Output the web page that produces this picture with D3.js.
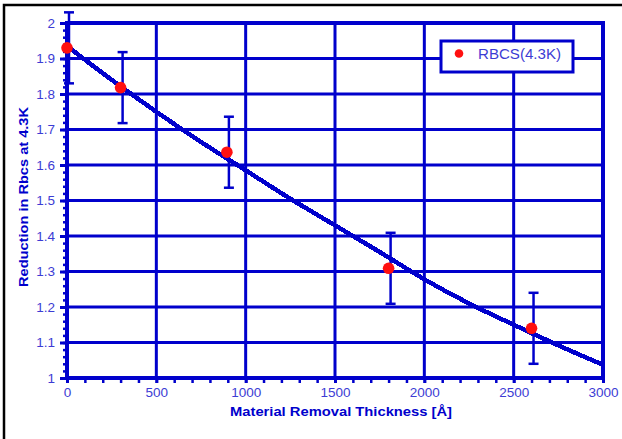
<!DOCTYPE html>
<html>
<head>
<meta charset="utf-8">
<script src="https://cdn.jsdelivr.net/npm/d3@7"></script>
<style>
  body { margin: 0; background: #fff; }
  text { font-family: "Liberation Sans", Arial, Helvetica, sans-serif; }
</style>
</head>
<body>
<svg id="chart" width="622" height="439"></svg>
<script>
// Measured surface resistance reduction vs. removed material
const thickness = [0, 300, 895, 1800, 2600];
const reduction = [1.93, 1.818, 1.636, 1.309, 1.14];
const reductionErr = [0.1, 0.1, 0.1, 0.1, 0.1];

// Fitted trend curve
const fitThickness = [0, 250, 500, 750, 1000, 1250, 1500, 1750, 2000, 2250, 2500, 2750, 3000];
const fitReduction = [1.935, 1.84, 1.75, 1.665, 1.585, 1.505, 1.43, 1.355, 1.278, 1.21, 1.15, 1.092, 1.037];

const xTicks = [0, 500, 1000, 1500, 2000, 2500, 3000];
const yTicks = [1, 1.1, 1.2, 1.3, 1.4, 1.5, 1.6, 1.7, 1.8, 1.9, 2];
const xMinorStep = 100;
const yMinorStep = 0.02;

const seriesName = "RBCS(4.3K)";
const xTitle = "Material Removal Thickness [Å]";
const yTitle = "Reduction in Rbcs at 4.3K";

const BLUE = "#0000cc";
const LABEL = "#3c3cd4";
const RED = "#ff1010";

const svg = d3.select("#chart");

// outer page frame
svg.append("rect")
  .attr("x", 4).attr("y", 5).attr("width", 700).attr("height", 700)
  .attr("fill", "none").attr("stroke", "#000").attr("stroke-width", 2.5);

const x = d3.scaleLinear().domain([0, 3000]).range([67, 603]);
const y = d3.scaleLinear().domain([1, 2]).range([378, 23]);

// grid
const grid = svg.append("g").attr("stroke", BLUE).attr("stroke-width", 3);
grid.selectAll("line.h").data(yTicks.slice(1, -1)).join("line")
  .attr("class", "h")
  .attr("x1", x(0)).attr("x2", x(3000))
  .attr("y1", d => y(d)).attr("y2", d => y(d));
grid.selectAll("line.v").data(xTicks.slice(1, -1)).join("line")
  .attr("class", "v")
  .attr("y1", y(1)).attr("y2", y(2))
  .attr("x1", d => x(d)).attr("x2", d => x(d));

// minor ticks
const xMinor = d3.range(0, 3000 + 1, xMinorStep);
const yMinor = d3.range(0, 50 + 1).map(i => 1 + i * yMinorStep);

const xMinorAxis = svg.append("g")
  .attr("transform", `translate(0,${y(1)})`)
  .call(d3.axisBottom(x).tickValues(xMinor).tickSize(5).tickFormat(""));
const yMinorAxis = svg.append("g")
  .attr("transform", `translate(${x(0)},0)`)
  .call(d3.axisLeft(y).tickValues(yMinor).tickSize(4).tickFormat(""));
[xMinorAxis, yMinorAxis].forEach(g => {
  g.select(".domain").remove();
  g.selectAll(".tick line").attr("stroke", BLUE).attr("stroke-width", 2.5);
});

// major axes with labels
const xAxis = svg.append("g")
  .attr("transform", `translate(0,${y(1)})`)
  .call(d3.axisBottom(x).tickValues(xTicks).tickSize(5).tickPadding(4).tickFormat(d => String(d)));
const yAxis = svg.append("g")
  .attr("transform", `translate(${x(0)},0)`)
  .call(d3.axisLeft(y).tickValues(yTicks).tickSize(7).tickPadding(5).tickFormat(d => String(+d.toFixed(1))));
[xAxis, yAxis].forEach(g => {
  g.select(".domain").remove();
  g.selectAll(".tick line").attr("stroke", BLUE).attr("stroke-width", 3);
  g.selectAll(".tick text").attr("fill", LABEL).attr("font-size", 13.5)
    .style("font-family", '"Liberation Sans", Arial, sans-serif');
});

// plot frame
svg.append("rect")
  .attr("x", x(0)).attr("y", y(2))
  .attr("width", x(3000) - x(0)).attr("height", y(1) - y(2))
  .attr("fill", "none").attr("stroke", BLUE).attr("stroke-width", 4);

// fitted curve
const fitData = fitThickness.map((t, i) => [t, fitReduction[i]]);
svg.append("path")
  .datum(fitData)
  .attr("fill", "none")
  .attr("stroke", BLUE)
  .attr("stroke-width", 4.5)
  .attr("shape-rendering", "crispEdges")
  .attr("d", d3.line().x(d => x(d[0])).y(d => y(d[1])).curve(d3.curveMonotoneX));

// error bars
const pts = thickness.map((t, i) => ({ t, v: reduction[i], e: reductionErr[i] }));
const eb = svg.append("g").attr("stroke", BLUE).attr("stroke-width", 2.5);
eb.selectAll("line.bar").data(pts).join("line")
  .attr("class", "bar")
  .attr("x1", d => x(d.t) + 2).attr("x2", d => x(d.t) + 2)
  .attr("y1", d => y(d.v + d.e)).attr("y2", d => y(d.v - d.e));
eb.selectAll("line.capT").data(pts).join("line")
  .attr("class", "capT")
  .attr("x1", d => x(d.t) - 3).attr("x2", d => x(d.t) + 7)
  .attr("y1", d => y(d.v + d.e)).attr("y2", d => y(d.v + d.e));
eb.selectAll("line.capB").data(pts).join("line")
  .attr("class", "capB")
  .attr("x1", d => x(d.t) - 3).attr("x2", d => x(d.t) + 7)
  .attr("y1", d => y(d.v - d.e)).attr("y2", d => y(d.v - d.e));

// markers
svg.append("g").selectAll("circle").data(pts).join("circle")
  .attr("cx", d => x(d.t)).attr("cy", d => y(d.v))
  .attr("r", 5.8).attr("fill", RED);

// legend
const lg = svg.append("g");
lg.append("rect")
  .attr("x", 441).attr("y", 41).attr("width", 132).attr("height", 31)
  .attr("fill", "#fff").attr("stroke", BLUE).attr("stroke-width", 3);
lg.append("circle").attr("cx", 459).attr("cy", 53.5).attr("r", 4.3).attr("fill", RED);
lg.append("text")
  .attr("x", 478).attr("y", 58.5)
  .attr("font-size", 14).attr("fill", LABEL)
  .attr("textLength", 83).attr("lengthAdjust", "spacingAndGlyphs")
  .text(seriesName);

// axis titles
svg.append("text")
  .attr("x", 341).attr("y", 416)
  .attr("text-anchor", "middle")
  .attr("font-size", 12).attr("font-weight", "bold").attr("fill", BLUE)
  .attr("textLength", 222).attr("lengthAdjust", "spacingAndGlyphs")
  .text(xTitle);
svg.append("text")
  .attr("transform", "translate(28,197) rotate(-90)")
  .attr("text-anchor", "middle")
  .attr("font-size", 12).attr("font-weight", "bold").attr("fill", BLUE)
  .attr("textLength", 180).attr("lengthAdjust", "spacingAndGlyphs")
  .text(yTitle);
</script>
</body>
</html>
